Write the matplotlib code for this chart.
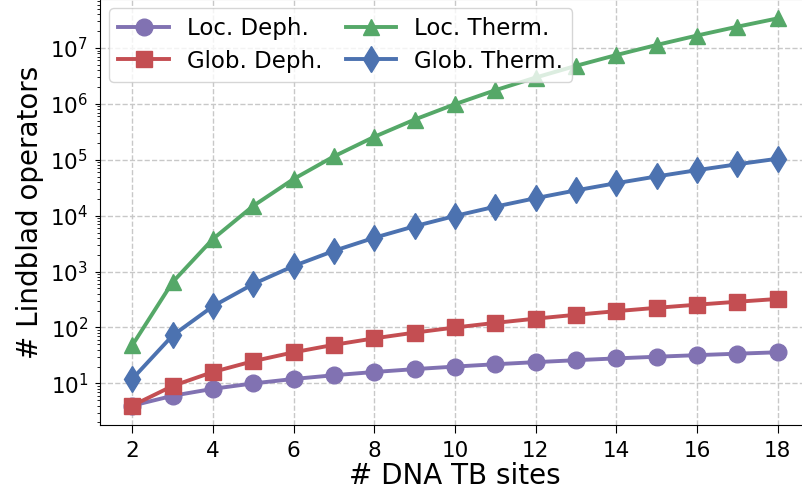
import numpy as np
import matplotlib
matplotlib.use('Agg')
import matplotlib.pyplot as plt

# number of DNA tight-binding sites
n_sites = [2, 3, 4, 5, 6, 7, 8, 9, 10, 11, 12, 13, 14, 15, 16, 17, 18]

# number of Lindblad operators
loc_deph = [4, 6, 8, 10, 12, 14, 16, 18, 20, 22, 24, 26, 28, 30, 32, 34, 36]
glob_deph = [4, 9, 16, 25, 36, 49, 64, 81, 100, 121, 144, 169, 196, 225, 256, 289, 324]
loc_therm = [48, 648, 3840, 15000, 45360, 115248, 258048, 524880, 990000,
             1756920, 2965248, 4797288, 7490112, 11340000, 16711680, 24054048, 33907248]
glob_therm = [12, 72, 240, 600, 1260, 2352, 4032, 6480, 9900, 14520, 20592,
              28392, 38220, 50400, 65280, 83232, 104652]

fig = plt.figure(figsize=(8.02, 4.99), dpi=100)
ax = fig.add_axes([100/802, 74/499, 710/802, 426/499])

ax.plot(n_sites, loc_deph, marker='o', color='#8172B2', lw=2.8, ms=12, label='Loc. Deph.')
ax.plot(n_sites, glob_deph, marker='s', color='#C44E52', lw=2.8, ms=11, label='Glob. Deph.')
ax.plot(n_sites, loc_therm, marker='^', color='#55A868', lw=2.8, ms=12, label='Loc. Therm.')
ax.plot(n_sites, glob_therm, marker='d', color='#4C72B0', lw=2.8, ms=13, label='Glob. Therm.')

ax.set_yscale('log')
ax.set_xticks([2, 4, 6, 8, 10, 12, 14, 16, 18])
ax.tick_params(axis='both', labelsize=15.5)
ax.tick_params(axis='x', length=5.5, pad=6)
ax.tick_params(axis='y', which='major', pad=5)
ax.set_xlabel('# DNA TB sites', fontsize=20, labelpad=1)
ax.set_ylabel('# Lindblad operators', fontsize=20, labelpad=4)
ax.grid(True, which='major', ls='--', color='#c8c8c8', lw=1)
for side in ['top', 'right']:
    ax.spines[side].set_color('#999999')

ax.legend(ncol=2, loc='upper left', fontsize=16.5, columnspacing=1.0,
          handlelength=2.2, labelspacing=0.4, edgecolor='#cccccc',
          borderaxespad=0.4)

plt.savefig('out.png', dpi=100)
